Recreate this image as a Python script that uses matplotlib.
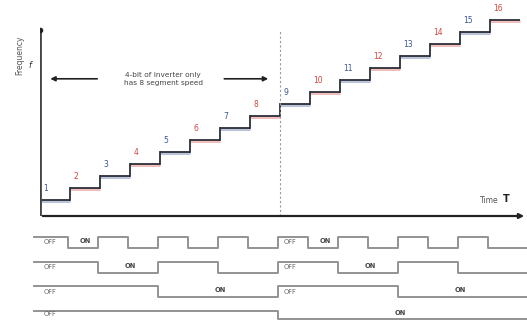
import numpy as np
import matplotlib
matplotlib.use("Agg")
import matplotlib.pyplot as plt

# frequency level reached at each of the 16 time steps
steps = list(range(1, 17))
levels = [1, 2, 3, 4, 5, 6, 7, 8, 9, 10, 11, 12, 13, 14, 15, 16]
step_labels = ["1", "2", "3", "4", "5", "6", "7", "8",
               "9", "10", "11", "12", "13", "14", "15", "16"]

# switch states per step (1 = ON), one row per bit
bit_rows = [
    [0, 1, 0, 1, 0, 1, 0, 1, 0, 1, 0, 1, 0, 1, 0, 1],
    [0, 0, 1, 1, 0, 0, 1, 1, 0, 0, 1, 1, 0, 0, 1, 1],
    [0, 0, 0, 0, 1, 1, 1, 1, 0, 0, 0, 0, 1, 1, 1, 1],
    [0, 0, 0, 0, 0, 0, 0, 0, 1, 1, 1, 1, 1, 1, 1, 1],
]
note_text = "4-bit of inverter only\nhas 8 segment speed"

W, H = 527, 328
fig = plt.figure(figsize=(W / 100, H / 100), dpi=100)

step_px = 30.0
lev_px = 12.0
x_max = (W - 40) / step_px
y_lo = 1 - (216 - 200) / lev_px
y_hi = 1 + 200 / lev_px

ax = fig.add_axes([40 / W, 1 - 216 / H, (W - 40) / W, 216 / H])
ax.set_xlim(0, x_max)
ax.set_ylim(y_lo, y_hi)
ax.axis("off")

blue = "#3a5590"
red = "#d0453f"
dark = "#2a2e38"

# staircase
for i, (s, lv) in enumerate(zip(steps, levels)):
    x0 = s - 1
    col = blue if lv % 2 == 1 else red
    ax.plot([x0, x0 + 1], [lv - 0.12, lv - 0.12], color=col, lw=2.2, alpha=0.35,
            solid_capstyle="butt")
    ax.plot([x0, x0 + 1], [lv, lv], color=dark, lw=1.3, solid_capstyle="butt")
    if i > 0:
        ax.plot([x0, x0], [levels[i - 1], lv], color=dark, lw=1.3)
    ax.text(x0 + 0.12, lv + 0.55, step_labels[i], color=col, fontsize=5.5,
            ha="left", va="bottom")

# axes with arrows
ax.annotate("", xy=(x_max, y_lo), xytext=(0, y_lo),
            arrowprops=dict(arrowstyle="-|>", color="#222222", lw=1.6,
                            mutation_scale=7), annotation_clip=False)
ax.plot([0, 0], [y_lo, 15.2], color="#444444", lw=2.0)
ax.plot([0], [15.2], marker="o", color="#222222", ms=3)

# split between the two halves
ax.plot([8, 8], [y_lo, 15.2], color="#9a9a9a", lw=0.8, ls=(0, (2, 2)))

ax.text(-0.67, 13.1, "Frequency", rotation=90, fontsize=5.5, color="#555555",
        ha="center", va="center")
ax.text(-0.33, 12.2, "f", fontsize=6, color="#333333", ha="center",
        va="center", style="italic")
ax.text(15.3, 0.95, "Time", fontsize=5.5, color="#555555", ha="right",
        va="center")
ax.text(15.55, 1.05, "T", fontsize=7, color="#222222", ha="center",
        va="center", weight="bold")

# annotation with two arrows
ax.text(4.1, 11.1, note_text, fontsize=5.3, color="#444444", ha="center",
        va="center", linespacing=1.3)
ax.annotate("", xy=(0.25, 11.1), xytext=(2.0, 11.1),
            arrowprops=dict(arrowstyle="-|>", color="#222222", lw=1.2,
                            mutation_scale=7))
ax.annotate("", xy=(7.7, 11.1), xytext=(6.05, 11.1),
            arrowprops=dict(arrowstyle="-|>", color="#222222", lw=1.2,
                            mutation_scale=7))

# timing rows
bx = fig.add_axes([40 / W, 0, (W - 40) / W, 98 / H])
bx.set_xlim(0, x_max)
bx.set_ylim(0, 4)
bx.axis("off")
row_px = 24.5
gray = "#939393"
for k, row in enumerate(bit_rows):
    hi = 4 - k - 7 / row_px
    lo = hi - (11 if k < 3 else 8) / row_px
    xs = [-0.2]
    ys = [hi]
    for s, state in enumerate(row):
        y = lo if state else hi
        xs += [s - 0.06, s - 0.06] if s > 0 else [0]
        ys += [ys[-1], y] if s > 0 else [y]
        xs.append(s + 1 - 0.06)
        ys.append(y)
    xs.append(x_max)
    ys.append(ys[-1])
    bx.plot(xs, ys, color=gray, lw=1.4, clip_on=False)

    mid = (hi + lo) / 2
    for half in (0, 8):
        seg = row[half:half + 8]
        if seg[0] == 0:
            bx.text(half + 0.12, mid, "OFF", fontsize=4.8, color="#666666",
                    ha="left", va="center")
        if 1 in seg:
            a = seg.index(1)
            b = a
            while b < 8 and seg[b] == 1:
                b += 1
            bx.text(half + (a + b) / 2, mid + 0.05, "ON", fontsize=4.8,
                    color="#444444", ha="center", va="center", weight="bold")

fig.savefig("out.png", dpi=100)
